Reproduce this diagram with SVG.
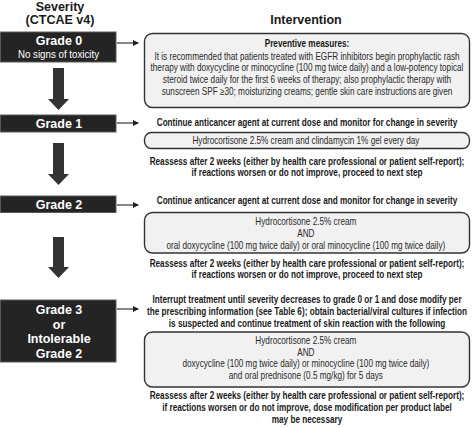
<svg xmlns="http://www.w3.org/2000/svg" width="474" height="428" viewBox="0 0 474 428">
<style>
.hdr{font-family:"Liberation Sans",Arial,sans-serif;font-weight:bold;font-size:12.5px;fill:#1a1a1a;text-anchor:middle}
.gr{fill:#242424;stroke:#5a5a5a;stroke-width:1}
.gt{font-family:"Liberation Sans",Arial,sans-serif;font-weight:bold;font-size:12.5px;fill:#fff;text-anchor:middle}
.gs{font-family:"Liberation Sans",Arial,sans-serif;font-size:11.6px;fill:#fff;text-anchor:middle}
.box{fill:#f1f1f1;stroke:#333;stroke-width:1.4}
.b{font-family:"Liberation Sans",Arial,sans-serif;font-weight:bold;font-size:10px;fill:#1a1a1a;text-anchor:middle}
.r{font-family:"Liberation Sans",Arial,sans-serif;font-size:10px;fill:#2a2a2a;text-anchor:middle}
.big{fill:#333}
.ln{stroke:#222;stroke-width:1.1;fill:none}
</style>
<defs>
<marker id="ah" markerWidth="6" markerHeight="6" refX="5" refY="3" orient="auto" markerUnits="userSpaceOnUse">
<path d="M0,0 L6,3 L0,6 z" fill="#222"/>
</marker>
</defs>
<g id="headers">
<text class="hdr" x="60" y="10.5">Severity</text>
<text class="hdr" x="60" y="24">(CTCAE v4)</text>
<text class="hdr" x="306" y="24">Intervention</text>
</g>
<g id="grade0">
<rect class="gr" x="0.5" y="32" width="115.5" height="30"/>
<text class="gt" x="59" y="45">Grade 0</text>
<text class="gs" transform="scale(0.84 1)" x="69.6" y="58.5">No signs of toxicity</text>
</g>
<g id="grade1">
<rect class="gr" x="0.5" y="115" width="115.5" height="17"/>
<text class="gt" x="59" y="128">Grade 1</text>
</g>
<g id="grade2">
<rect class="gr" x="0.5" y="196" width="115.5" height="16.5"/>
<text class="gt" x="59" y="209">Grade 2</text>
</g>
<g id="grade3">
<rect class="gr" x="0.5" y="300" width="115.5" height="62"/>
<text class="gt" x="59" y="314">Grade 3</text>
<text class="gt" x="59" y="328.5">or</text>
<text class="gt" x="59" y="343">Intolerable</text>
<text class="gt" x="59" y="357.5">Grade 2</text>
</g>
<g id="connectors">
<polygon class="big" points="53,68 64,68 64,99 69,99 58.5,110 48,99 53,99"/>
<polygon class="big" points="53,143 64,143 64,174 69,174 58.5,185 48,174 53,174"/>
<polygon class="big" points="53,237 64,237 64,267 69,267 58.5,278 48,267 53,267"/>
<line class="ln" x1="117" y1="43" x2="138" y2="43" marker-end="url(#ah)"/>
<line class="ln" x1="117" y1="123" x2="138" y2="123" marker-end="url(#ah)"/>
<line class="ln" x1="117" y1="205" x2="138" y2="205" marker-end="url(#ah)"/>
<line class="ln" x1="117" y1="309" x2="138" y2="309" marker-end="url(#ah)"/>
</g>
<g id="int0">
<rect class="box" x="144.5" y="33.5" width="325" height="74" rx="8"/>
<g transform="scale(0.82 1)">
<text class="b" x="374.4" y="47">Preventive measures:</text>
<text class="r" x="374.4" y="59.6">It is recommended that patients treated with EGFR inhibitors begin prophylactic rash</text>
<text class="r" x="374.4" y="71.3">therapy with doxycycline or minocycline (100 mg twice daily) and a low-potency topical</text>
<text class="r" x="374.4" y="83">steroid twice daily for the first 6 weeks of therapy; also prophylactic therapy with</text>
<text class="r" x="374.4" y="94.7">sunscreen SPF ≥30; moisturizing creams; gentle skin care instructions are given</text>
</g>
</g>
<g id="int1">
<g transform="scale(0.82 1)">
<text class="b" x="374.4" y="125.6">Continue anticancer agent at current dose and monitor for change in severity</text>
</g>
<rect class="box" x="144.5" y="132.5" width="325" height="16" rx="7"/>
<g transform="scale(0.82 1)">
<text class="r" x="373" y="144.5">Hydrocortisone 2.5% cream and clindamycin 1% gel every day</text>
<text class="b" x="374.4" y="164.6">Reassess after 2 weeks (either by health care professional or patient self-report);</text>
<text class="b" x="374.4" y="176">if reactions worsen or do not improve, proceed to next step</text>
</g>
</g>
<g id="int2">
<g transform="scale(0.82 1)">
<text class="b" x="374.4" y="204">Continue anticancer agent at current dose and monitor for change in severity</text>
</g>
<rect class="box" x="144.5" y="212.5" width="325" height="40.5" rx="8"/>
<g transform="scale(0.82 1)">
<text class="r" x="373" y="225">Hydrocortisone 2.5% cream</text>
<text class="r" x="373" y="237">AND</text>
<text class="r" x="373" y="249.3">oral doxycycline (100 mg twice daily) or oral minocycline (100 mg twice daily)</text>
<text class="b" x="374.4" y="267">Reassess after 2 weeks (either by health care professional or patient self-report);</text>
<text class="b" x="374.4" y="278.5">if reactions worsen or do not improve, proceed to next step</text>
</g>
</g>
<g id="int3">
<g transform="scale(0.82 1)">
<text class="b" x="374.4" y="303.5">Interrupt treatment until severity decreases to grade 0 or 1 and dose modify per</text>
<text class="b" x="374.4" y="315.2">the prescribing information (see Table 6); obtain bacterial/viral cultures if infection</text>
<text class="b" x="374.4" y="327">is suspected and continue treatment of skin reaction with the following</text>
</g>
<rect class="box" x="144.5" y="332" width="325" height="55" rx="8"/>
<g transform="scale(0.82 1)">
<text class="r" x="373" y="344">Hydrocortisone 2.5% cream</text>
<text class="r" x="373" y="355.7">AND</text>
<text class="r" x="373" y="367.4">doxycycline (100 mg twice daily) or minocycline (100 mg twice daily)</text>
<text class="r" x="373" y="379.1">and oral prednisone (0.5 mg/kg) for 5 days</text>
<text class="b" x="374.4" y="399.5">Reassess after 2 weeks (either by health care professional or patient self-report);</text>
<text class="b" x="374.4" y="411.2">if reactions worsen or do not improve, dose modification per product label</text>
<text class="b" x="374.4" y="422.9">may be necessary</text>
</g>
</g>
</svg>
